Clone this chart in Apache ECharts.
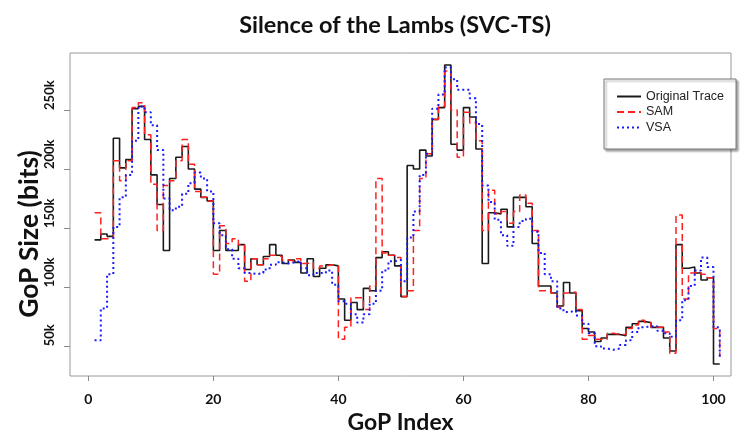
<!DOCTYPE html>
<html>
<head>
<meta charset="utf-8">
<script src="https://cdn.jsdelivr.net/npm/echarts@6/dist/echarts.min.js"></script>
<style>
html,body{margin:0;padding:0;background:#fff;}
#chart{width:744px;height:439px;}
</style>
</head>
<body>
<div id="chart"></div>
<script>
// GoP index (x)
const gopIndex = [1,2,3,4,5,6,7,8,9,10,11,12,13,14,15,16,17,18,19,20,21,22,23,24,25,26,27,28,29,30,31,32,33,34,35,36,37,38,39,40,41,42,43,44,45,46,47,48,49,50,51,52,53,54,55,56,57,58,59,60,61,62,63,64,65,66,67,68,69,70,71,72,73,74,75,76,77,78,79,80,81,82,83,84,85,86,87,88,89,90,91,92,93,94,95,96,97,98,99,100,101];

// GoP size in bits
const originalTrace = [140000,145000,143000,226000,201000,208000,251000,253000,225000,195000,170000,131000,192000,210000,219000,200000,183000,176000,173000,131000,148000,131000,131000,136000,115000,124000,119000,126000,136000,127000,120000,123000,121000,112000,124000,109000,116000,119000,118000,90000,72000,87000,81000,99000,97000,125000,130000,127000,118000,92000,203000,200000,216000,211000,242000,252000,288000,221000,216000,252000,244000,217000,120000,163000,162000,166000,151000,176000,176000,168000,137000,101000,101000,95000,84000,104000,95000,80000,65000,62000,54000,57000,60000,60000,59000,66000,69000,71000,70000,66000,66000,57000,46000,136000,116000,117000,112000,106000,108000,35000,35000];

const samTrace = [163000,141000,142000,207000,190000,207000,252000,256000,229000,187000,148000,186000,190000,207000,225000,204000,181000,176000,173000,111000,152000,137000,141000,136000,105000,124000,119000,124000,127000,126000,123000,122000,124000,120000,121000,116000,118000,119000,118000,56000,66000,91000,91000,81000,101000,192000,129000,127000,125000,92000,97000,148000,192000,213000,242000,253000,283000,250000,210000,248000,239000,224000,148000,182000,162000,164000,154000,164000,178000,171000,148000,97000,98000,95000,83000,95000,96000,81000,56000,59000,56000,56000,61000,60000,60000,65000,68000,72000,70000,66000,66000,62000,44000,161000,90000,112000,113000,111000,108000,65000,41000];

const vsaTrace = [55000,82000,111000,151000,176000,195000,224000,253000,248000,237000,216000,175000,165000,168000,179000,188000,197000,192000,181000,154000,144000,132000,124000,116000,112000,111000,112000,115000,119000,121000,120000,121000,122000,116000,110000,112000,112000,114000,102000,88000,86000,77000,70000,77000,86000,97000,114000,122000,123000,105000,142000,164000,195000,213000,251000,263000,286000,276000,267000,267000,260000,238000,186000,172000,157000,144000,135000,151000,156000,158000,147000,129000,111000,105000,82000,79000,80000,76000,69000,61000,50000,48000,47000,48000,51000,55000,62000,66000,67000,67000,63000,61000,58000,72000,89000,101000,114000,125000,117000,66000,41000];

const xTicks = [0,20,40,60,80,100];
const yTicks = [50000,100000,150000,200000,250000];
const seriesNames = ['Original Trace','SAM','VSA'];

function pairs(vals){ return gopIndex.map((x,k)=>[x, vals[k]]); }

const chart = echarts.init(document.getElementById('chart'), null, {renderer:'canvas'});
const boldFont = 'Lato, "Open Sans", sans-serif';

chart.setOption({
  animation:false,
  backgroundColor:'#ffffff',
  title:{
    text:'Silence of the Lambs (SVC-TS)',
    left:390, top:8, textAlign:'center',
    textStyle:{fontFamily:boldFont, fontWeight:'bold', fontSize:23.5, color:'#111'}
  },
  grid:{left:70, right:13, top:53, bottom:60, show:true, borderColor:'#9a9a9a', borderWidth:1, containLabel:false},
  legend:{
    orient:'vertical', left:604, top:79,
    padding:[11,12,15,12], itemGap:2.5, itemWidth:24, itemHeight:13,
    backgroundColor:'#ffffff', borderColor:'#777', borderWidth:1,
    shadowColor:'rgba(0,0,0,0.35)', shadowBlur:2, shadowOffsetX:2, shadowOffsetY:2,
    itemStyle:{opacity:0},
    textStyle:{fontFamily:'"Liberation Sans", Arial, sans-serif', fontSize:12.5, color:'#222'},
    data:seriesNames
  },
  xAxis:{
    type:'value', min:-2.93, max:102.8,
    name:'GoP Index', nameLocation:'middle', nameGap:35,
    nameTextStyle:{fontFamily:boldFont, fontWeight:'bold', fontSize:23, color:'#111'},
    axisLine:{show:false, onZero:false},
    axisTick:{show:true, length:5, customValues:xTicks, lineStyle:{color:'#8a8a8a', width:1}},
    axisLabel:{customValues:xTicks, margin:16, fontFamily:boldFont, fontWeight:'bold', fontSize:14, color:'#111'},
    splitLine:{show:false}
  },
  yAxis:{
    type:'value', min:24800, max:298200,
    axisLine:{show:false, onZero:false},
    axisTick:{show:true, length:6, customValues:yTicks, lineStyle:{color:'#8a8a8a', width:1}},
    axisLabel:{customValues:yTicks, rotate:90, align:'left', margin:14, fontFamily:boldFont, fontWeight:'bold', fontSize:13, color:'#111',
      formatter:function(v){return (v/1000)+'k';}},
    splitLine:{show:false}
  },
  graphic:[{
    type:'text', x:29, y:234, rotation:Math.PI/2,
    style:{text:'GoP Size (bits)', fontFamily:boldFont, fontWeight:'bold', fontSize:26.5, fill:'#111', textAlign:'center', textVerticalAlign:'middle'}
  }],
  series:[
    {name:seriesNames[0], type:'line', step:'end', data:pairs(originalTrace), symbol:'none', z:2,
      lineStyle:{color:'#1a1a1a', width:1.6, type:'solid'}, itemStyle:{color:'#1a1a1a'}},
    {name:seriesNames[1], type:'line', step:'end', data:pairs(samTrace), symbol:'none', z:3,
      lineStyle:{color:'#ff2020', width:1.5, type:[7,4]}, itemStyle:{color:'#ff2020'}},
    {name:seriesNames[2], type:'line', step:'end', data:pairs(vsaTrace), symbol:'none', z:4,
      lineStyle:{color:'#1a1aff', width:2, type:[2,3]}, itemStyle:{color:'#1a1aff'}}
  ]
});
</script>
</body>
</html>
